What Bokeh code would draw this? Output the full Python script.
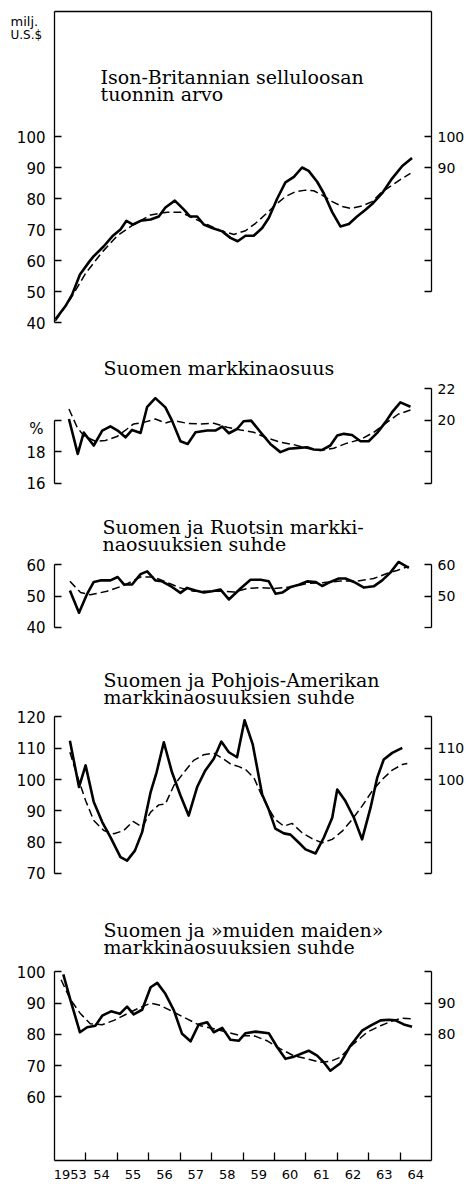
from bokeh.plotting import figure
from bokeh.models import Range1d, LinearAxis, FixedTicker, Label
from bokeh.layouts import column
from bokeh.embed import file_html
from bokeh.resources import INLINE

# ---------------- data ----------------
year_labels = ["1953", "54", "55", "56", "57", "58", "59", "60", "61", "62", "63", "64"]
year_label_pos = [1953.5, 1954.5, 1955.5, 1956.5, 1957.5, 1958.5, 1959.5, 1960.5,
                  1961.5, 1962.5, 1963.5, 1964.5]
year_ticks = [1954, 1955, 1956, 1957, 1958, 1959, 1960, 1961, 1962, 1963, 1964]

# 1. Ison-Britannian selluloosan tuonnin arvo (milj. US$)
uk_x = [1953.03, 1953.35, 1953.56, 1953.81, 1954.12, 1954.25, 1954.57, 1954.84, 1955.10, 1955.29,
        1955.50, 1955.74, 1956.06, 1956.32, 1956.53, 1956.83, 1957.12, 1957.31, 1957.54, 1957.75,
        1958.02, 1958.34, 1958.60, 1958.83, 1959.08, 1959.34, 1959.61, 1959.82, 1960.09, 1960.35,
        1960.62, 1960.88, 1961.09, 1961.36, 1961.57, 1961.84, 1962.10, 1962.37, 1962.63, 1962.90,
        1963.11, 1963.43, 1963.75, 1964.07, 1964.38]
uk_value = [41, 45.3, 49, 55.5, 59.8, 61.4, 64.6, 67.8, 70, 72.8,
            71.6, 72.8, 73.2, 74.2, 77.1, 79.3, 76.4, 74.2, 74.2, 71.6,
            70.5, 69.4, 67.3, 66.2, 68, 68, 70.5, 73.7, 80, 85.2,
            87, 90, 88.9, 85.4, 81.7, 75.6, 71, 71.8, 74.2, 76.4,
            78.2, 81.7, 86.5, 90.5, 93.1]
uk_trend_x = [1953.03, 1953.5, 1954.0, 1954.5, 1955.0, 1955.5, 1956.06, 1956.59, 1957.01, 1957.43,
              1957.86, 1958.28, 1958.71, 1959.08, 1959.40, 1959.72, 1960.03, 1960.35, 1960.67, 1960.99,
              1961.25, 1961.52, 1961.84, 1962.16, 1962.42, 1962.79, 1963.11, 1963.43, 1963.75, 1964.07,
              1964.33]
uk_trend = [40.5, 47.5, 56, 62.5, 68, 71.5, 74.7, 75.6, 75.6, 73.6,
            71.6, 69.7, 68.4, 69.6, 72, 74.9, 77.9, 80.6, 82.2, 82.7,
            82.5, 81.1, 79, 77.4, 76.8, 77.6, 79, 82.2, 84.3, 86.5,
            88.1]

# 2. Suomen markkinaosuus (%)
share_x = [1953.46, 1953.74, 1953.93, 1954.25, 1954.52, 1954.78, 1955.01, 1955.26, 1955.47, 1955.74,
           1955.95, 1956.21, 1956.53, 1956.74, 1957.01, 1957.24, 1957.49, 1957.86, 1958.12, 1958.34,
           1958.55, 1958.81, 1959.02, 1959.26, 1959.56, 1959.87, 1960.19, 1960.46, 1960.77, 1961.04,
           1961.25, 1961.52, 1961.78, 1962.00, 1962.21, 1962.47, 1962.74, 1963.00, 1963.27, 1963.53,
           1963.74, 1964.01, 1964.33]
share_value = [20.06, 17.85, 19.2, 18.38, 19.33, 19.6, 19.33, 18.9, 19.37, 19.18,
               20.84, 21.39, 20.8, 19.96, 18.65, 18.48, 19.22, 19.33, 19.33, 19.58,
               19.16, 19.43, 19.92, 19.96, 19.22, 18.48, 17.96, 18.17, 18.23, 18.27,
               18.13, 18.1, 18.38, 19.01, 19.12, 19.05, 18.65, 18.65, 19.18, 19.85,
               20.48, 21.12, 20.84]
share_trend_x = [1953.46, 1953.72, 1953.93, 1954.30, 1954.62, 1954.99, 1955.31, 1955.52, 1955.84, 1956.21,
                 1956.53, 1956.80, 1957.22, 1957.64, 1958.07, 1958.49, 1958.92, 1959.34, 1959.76, 1960.19,
                 1960.61, 1961.04, 1961.46, 1961.89, 1962.31, 1962.74, 1963.16, 1963.58, 1963.95, 1964.33]
share_trend = [20.7, 19.54, 19.0, 18.65, 18.7, 18.95, 19.43, 19.75, 19.85, 20.06,
               19.81, 19.96, 19.79, 19.75, 19.79, 19.54, 19.37, 19.22, 18.86, 18.59,
               18.44, 18.21, 18.06, 18.21, 18.53, 18.76, 19.22, 19.85, 20.38, 20.63]

# 3. Suomen ja Ruotsin markkinaosuuksien suhde
swe_x = [1953.49, 1953.78, 1954.04, 1954.25, 1954.46, 1954.78, 1955.01, 1955.21, 1955.47, 1955.74,
         1955.95, 1956.21, 1956.42, 1956.74, 1957.01, 1957.22, 1957.49, 1957.75, 1958.02, 1958.28,
         1958.55, 1958.92, 1959.24, 1959.56, 1959.82, 1960.04, 1960.25, 1960.52, 1960.78, 1961.04,
         1961.31, 1961.52, 1961.78, 1962.05, 1962.26, 1962.53, 1962.85, 1963.16, 1963.43, 1963.69,
         1963.95, 1964.28]
swe_value = [51.8, 44.65, 50.7, 54.5, 55, 55, 56.1, 53.7, 53.7, 57,
             57.9, 55, 54.7, 52.9, 51, 52.6, 51.8, 51.1, 51.5, 52.1,
             48.9, 52.4, 55.2, 55.2, 54.7, 50.7, 51.1, 52.9, 53.6, 54.7,
             54.5, 53.2, 54.5, 55.6, 55.6, 54.5, 52.7, 53.1, 55, 57.5,
             60.9, 59]
swe_trend_x = [1953.49, 1953.83, 1954.14, 1954.67, 1955.21, 1955.74, 1956.16, 1956.59, 1957.01, 1957.43,
               1957.86, 1958.28, 1958.71, 1959.13, 1959.56, 1959.98, 1960.52, 1961.04, 1961.57, 1962.10,
               1962.63, 1963.16, 1963.58, 1963.90, 1964.28]
swe_trend = [54.7, 51.1, 50.4, 51.5, 53.4, 56.1, 56.1, 54.3, 52.6, 51.5,
             51.5, 51.5, 51.3, 52.4, 52.7, 52.4, 52.9, 54, 54.3, 54.8,
             54.8, 55.6, 57.2, 58.2, 59.5]

# 4. Suomen ja Pohjois-Amerikan markkinaosuuksien suhde
nam_x = [1953.49, 1953.78, 1953.99, 1954.25, 1954.52, 1954.78, 1955.10, 1955.31, 1955.56, 1955.79,
         1956.06, 1956.25, 1956.48, 1956.74, 1957.01, 1957.27, 1957.54, 1957.80, 1958.07, 1958.31,
         1958.55, 1958.81, 1959.05, 1959.31, 1959.61, 1959.82, 1960.03, 1960.30, 1960.51, 1960.78,
         1960.99, 1961.31, 1961.57, 1961.84, 1962.00, 1962.26, 1962.53, 1962.79, 1963.06, 1963.27,
         1963.48, 1963.75, 1964.07]
nam_value = [112.4, 97.6, 104.5, 92.8, 86.4, 81.6, 75.2, 74.1, 77.3, 83.2,
             96, 102.3, 111.9, 102.3, 94.9, 88.5, 97.6, 102.9, 106.6, 112.1,
             108.7, 107.1, 118.9, 111.2, 95.2, 90.4, 84.3, 82.8, 82.4, 79.8,
             77.7, 76.4, 81.4, 87.8, 96.8, 93.1, 87.8, 80.9, 91, 100.5,
             106.4, 108.5, 110.1]
nam_trend_x = [1953.49, 1953.72, 1953.99, 1954.25, 1954.57, 1954.89, 1955.20, 1955.50, 1955.79, 1956.06,
               1956.32, 1956.53, 1956.80, 1957.12, 1957.43, 1957.75, 1958.07, 1958.34, 1958.60, 1958.87,
               1959.08, 1959.35, 1959.56, 1959.77, 1960.03, 1960.30, 1960.56, 1960.88, 1961.20, 1961.52,
               1961.84, 1962.16, 1962.47, 1962.79, 1963.11, 1963.43, 1963.75, 1964.07, 1964.23]
nam_trend = [108.7, 101.3, 93.3, 86.9, 83.7, 82.7, 83.7, 86.6, 84.8, 89.6,
             91.9, 92.2, 98.1, 102.3, 106.1, 107.9, 108.4, 106.8, 105, 104.1,
             103.2, 100.5, 95.7, 91.5, 87.2, 85.1, 86, 83, 81.1, 79.8,
             80.9, 83.5, 87.2, 91.5, 96.3, 100, 103, 104.8, 105.1]

# 5. Suomen ja »muiden maiden» markkinaosuuksien suhde
oth_x = [1953.28, 1953.51, 1953.81, 1954.04, 1954.30, 1954.52, 1954.80, 1955.08, 1955.31, 1955.52,
         1955.79, 1956.06, 1956.27, 1956.53, 1956.80, 1957.06, 1957.33, 1957.59, 1957.86, 1958.07,
         1958.34, 1958.60, 1958.87, 1959.08, 1959.40, 1959.82, 1960.09, 1960.35, 1960.62, 1961.09,
         1961.36, 1961.57, 1961.78, 1962.10, 1962.42, 1962.79, 1963.06, 1963.38, 1963.64, 1963.85,
         1964.12, 1964.38]
oth_value = [99.2, 90.9, 80.7, 82.3, 82.8, 86, 87.4, 86.6, 88.9, 86.4,
             87.9, 95.1, 96.5, 93, 87.7, 80.2, 77.8, 83.2, 83.9, 80.7,
             82.1, 78.3, 78, 80.4, 80.9, 80.4, 75.9, 72.2, 72.9, 74.8,
             73.2, 71.1, 68.4, 70.8, 76.4, 81.2, 82.8, 84.5, 84.7, 84.5,
             83.2, 82.5]
oth_trend_x = [1953.21, 1953.51, 1953.83, 1954.14, 1954.52, 1954.89, 1955.31, 1955.74, 1956.06, 1956.37,
               1956.80, 1957.22, 1957.64, 1958.07, 1958.49, 1958.92, 1959.34, 1959.76, 1960.19, 1960.61,
               1961.04, 1961.46, 1961.78, 1962.10, 1962.52, 1962.95, 1963.38, 1963.80, 1964.07, 1964.38]
oth_trend = [97.5, 91.1, 86.6, 83.4, 83.1, 84.5, 86.6, 88.7, 90, 89.3,
             87.1, 85, 82.8, 81.8, 80.7, 79.6, 79.6, 78, 75.4, 73.2,
             72.2, 71.1, 71.4, 72.7, 77, 80.7, 82.8, 84.5, 85.2, 85]

# ---------------- layout (page pixel positions) ----------------
FIG_W = 466
FRAME_L = 54          # page x of the left axis (1953)
FRAME_R = 431         # page x of the right axis (1965)
X0, X1 = 1953, 1965
PX_PER_YEAR = (FRAME_R - FRAME_L) / (X1 - X0)

TICK_FONT = "DejaVu Sans"
TITLE_FONT = "DejaVu Serif"
TITLE_SIZE = "19px"
LEFT_SIZE = "15px"
RIGHT_SIZE = "14px"


def xval(px):
    return X0 + (px - FRAME_L) / PX_PER_YEAR


def make_panel(top, bottom, anchor_val, anchor_px, ppu):
    y_end = anchor_val + (anchor_px - top) / ppu
    y_start = anchor_val - (bottom - anchor_px) / ppu
    p = figure(width=FIG_W, height=bottom - top,
               x_range=Range1d(xval(0), xval(FIG_W)), y_range=Range1d(y_start, y_end),
               output_backend="svg", toolbar_location=None,
               x_axis_location=None, y_axis_location=None,
               min_border_left=0, min_border_right=0,
               min_border_top=0, min_border_bottom=0,
               outline_line_color=None, background_fill_color="white",
               border_fill_color="white")
    p.grid.visible = False

    def yval(px):
        return anchor_val + (anchor_px - px) / ppu
    return p, yval


def add_yaxis(p, side, labelled, unlabelled, lo, hi, size, standoff):
    ax = LinearAxis(ticker=FixedTicker(ticks=labelled, minor_ticks=unlabelled),
                    bounds=(lo, hi), fixed_location=(X0 if side == "left" else X1),
                    axis_line_color="black", axis_line_width=1.3,
                    major_tick_in=7, major_tick_out=0, major_tick_line_width=1.3,
                    major_tick_line_color="black",
                    minor_tick_in=7, minor_tick_out=0, minor_tick_line_width=1.3,
                    minor_tick_line_color="black",
                    major_label_text_font=TICK_FONT, major_label_text_font_size=size,
                    major_label_text_color="black", major_label_standoff=standoff)
    p.add_layout(ax, side)


def add_text(p, yval, text, px, py, size=TITLE_SIZE, font=TITLE_FONT, align="left",
             baseline="alphabetic"):
    p.add_layout(Label(x=xval(px), y=yval(py), text=text, text_font=font,
                       text_font_size=size, text_color="black",
                       text_align=align, text_baseline=baseline))


def add_series(p, x, y, tx, ty):
    p.line(x=tx, y=ty, line_color="black", line_width=1.5, line_dash="8 4")
    p.line(x=x, y=y, line_color="black", line_width=2.6, line_join="round")


# panel 1
p1, y1 = make_panel(0, 345, 100, 136, 3.1)
top1 = y1(11)
top_line = LinearAxis(fixed_location=top1, ticker=FixedTicker(ticks=[]), bounds=(X0, X1),
                      axis_line_color="black", axis_line_width=1.3,
                      major_tick_line_color=None, minor_tick_line_color=None)
p1.add_layout(top_line, "above")
add_yaxis(p1, "left", [40, 50, 60, 70, 80, 90, 100], [], 40, top1, LEFT_SIZE, 9)
add_yaxis(p1, "right", [90, 100], [50, 60, 70, 80], 50, top1, RIGHT_SIZE, 6)
add_series(p1, uk_x, uk_value, uk_trend_x, uk_trend)
add_text(p1, y1, "milj.", 10, 21, size="13px", font=TICK_FONT)
add_text(p1, y1, "U.S.$", 10, 34, size="12px", font=TICK_FONT)
add_text(p1, y1, "Ison-Britannian selluloosan", 100, 76)
add_text(p1, y1, "tuonnin arvo", 100, 93)

# panel 2
p2, y2 = make_panel(345, 500, 18, 451, 15.75)
add_yaxis(p2, "left", [16, 18], [20], 16, 20, LEFT_SIZE, 9)
add_yaxis(p2, "right", [20, 22], [16, 18], 16, 22, RIGHT_SIZE, 6)
add_series(p2, share_x, share_value, share_trend_x, share_trend)
add_text(p2, y2, "%", 43, 428, size=LEFT_SIZE, font=TICK_FONT, align="right", baseline="middle")
add_text(p2, y2, "Suomen markkinaosuus", 103, 367)

# panel 3
p3, y3 = make_panel(500, 640, 50, 595.5, 3.12)
add_yaxis(p3, "left", [40, 50, 60], [], 40, 60, LEFT_SIZE, 9)
add_yaxis(p3, "right", [50, 60], [40], 40, 60, RIGHT_SIZE, 6)
add_series(p3, swe_x, swe_value, swe_trend_x, swe_trend)
add_text(p3, y3, "Suomen ja Ruotsin markki-", 102, 526)
add_text(p3, y3, "naosuuksien suhde", 102, 543)

# panel 4
p4, y4 = make_panel(640, 885, 100, 779, 3.133)
add_yaxis(p4, "left", [70, 80, 90, 100, 110, 120], [], 70, 120, LEFT_SIZE, 9)
add_yaxis(p4, "right", [100, 110], [70, 80, 90, 120], 70, 120, RIGHT_SIZE, 6)
add_series(p4, nam_x, nam_value, nam_trend_x, nam_trend)
add_text(p4, y4, "Suomen ja Pohjois-Amerikan", 103, 679)
add_text(p4, y4, "markkinaosuuksien suhde", 103, 696)

# panel 5
p5, y5 = make_panel(885, 1188, 90, 1002.7, 3.125)
base5 = y5(1160)
add_yaxis(p5, "left", [60, 70, 80, 90, 100], [], base5, 100, LEFT_SIZE, 9)
add_yaxis(p5, "right", [80, 90], [60, 70, 100], base5, 100, RIGHT_SIZE, 6)
xax = LinearAxis(ticker=FixedTicker(ticks=year_label_pos, minor_ticks=year_ticks),
                 major_label_overrides=dict(zip(year_label_pos, year_labels)),
                 fixed_location=base5, bounds=(X0, X1),
                 axis_line_color="black", axis_line_width=1.3,
                 major_tick_line_color=None, major_tick_in=0, major_tick_out=0,
                 minor_tick_in=8, minor_tick_out=0, minor_tick_line_width=1.3,
                 minor_tick_line_color="black",
                 major_label_text_font=TICK_FONT, major_label_text_font_size="13px",
                 major_label_text_color="black", major_label_standoff=9)
p5.add_layout(xax, "below")
add_series(p5, oth_x, oth_value, oth_trend_x, oth_trend)
add_text(p5, y5, "Suomen ja »muiden maiden»", 103, 929)
add_text(p5, y5, "markkinaosuuksien suhde", 103, 946)

layout = column(p1, p2, p3, p4, p5, spacing=0)

html = file_html(layout, INLINE, "Ison-Britannian selluloosan tuonti")
open("out.html", "w", encoding="utf-8").write(html)
